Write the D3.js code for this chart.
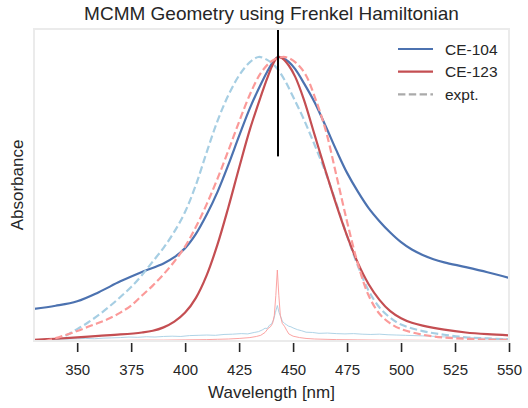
<!DOCTYPE html>
<html>
<head>
<meta charset="utf-8">
<script src="https://cdn.jsdelivr.net/npm/d3@7"></script>
<style>
  html, body { margin: 0; padding: 0; background: #ffffff; }
  svg { display: block; font-family: "Liberation Sans", Arial, sans-serif; }
</style>
</head>
<body>
<svg id="chart" width="528" height="408"></svg>
<script>
// ---- data ----
const chartTitle = "MCMM Geometry using Frenkel Hamiltonian";
const xLabel = "Wavelength [nm]";
const yLabel = "Absorbance";
const xTicks = [350, 375, 400, 425, 450, 475, 500, 525, 550];
const legendLabels = ["CE-104", "CE-123", "expt."];

// CE-104 simulated (blue solid)
const ce104Wl = [330, 340, 350, 360, 370, 380, 390, 395, 400, 405, 410, 415, 420, 425, 430, 435, 438, 441, 443, 445, 448, 451, 455, 460, 465, 470, 475, 480, 485, 490, 495, 500, 505, 510, 515, 520, 530, 540, 550];
const ce104Abs = [0.113, 0.124, 0.14, 0.172, 0.21, 0.243, 0.273, 0.295, 0.327, 0.377, 0.445, 0.525, 0.62, 0.722, 0.82, 0.903, 0.948, 0.986, 1.0, 0.997, 0.983, 0.957, 0.908, 0.84, 0.758, 0.672, 0.592, 0.526, 0.468, 0.422, 0.382, 0.348, 0.322, 0.303, 0.288, 0.277, 0.26, 0.242, 0.222];

// CE-123 simulated (red solid)
const ce123Wl = [330, 340, 350, 360, 370, 380, 385, 390, 395, 400, 405, 410, 415, 420, 425, 430, 435, 438, 441, 443, 445, 448, 451, 455, 460, 465, 470, 475, 480, 485, 490, 495, 500, 505, 510, 520, 530, 540, 550];
const ce123Abs = [0.004, 0.008, 0.013, 0.018, 0.023, 0.03, 0.036, 0.048, 0.068, 0.1, 0.152, 0.232, 0.34, 0.47, 0.61, 0.745, 0.86, 0.925, 0.98, 1.0, 0.995, 0.97, 0.93, 0.85, 0.725, 0.6, 0.48, 0.37, 0.275, 0.2, 0.145, 0.105, 0.08, 0.064, 0.054, 0.04, 0.03, 0.024, 0.02];

// experiment matching CE-104 (light blue dashed)
const expt104Wl = [330, 335, 340, 345, 350, 355, 360, 365, 370, 375, 380, 385, 390, 395, 400, 405, 410, 415, 420, 425, 430, 434, 438, 442, 446, 450, 455, 460, 465, 470, 475, 480, 485, 490, 495, 500, 510, 520, 530, 540, 550];
const expt104Abs = [0.0, 0.0, 0.004, 0.02, 0.042, 0.065, 0.092, 0.122, 0.155, 0.19, 0.232, 0.28, 0.328, 0.385, 0.455, 0.55, 0.665, 0.775, 0.865, 0.935, 0.982, 1.0, 0.99, 0.965, 0.92, 0.86, 0.78, 0.69, 0.595, 0.485, 0.37, 0.265, 0.177, 0.118, 0.082, 0.058, 0.035, 0.022, 0.013, 0.009, 0.006];

// experiment matching CE-123 (salmon dashed)
const expt123Wl = [330, 335, 340, 345, 350, 355, 360, 365, 370, 375, 380, 385, 390, 395, 400, 405, 410, 415, 420, 425, 430, 435, 440, 445, 448, 452, 456, 460, 465, 470, 475, 480, 485, 490, 495, 500, 510, 520, 530, 540, 550];
const expt123Abs = [0.0, 0.0, 0.01, 0.022, 0.035, 0.05, 0.064, 0.08, 0.1, 0.125, 0.16, 0.195, 0.235, 0.28, 0.333, 0.402, 0.482, 0.572, 0.67, 0.772, 0.868, 0.943, 0.985, 1.0, 0.996, 0.975, 0.935, 0.86, 0.745, 0.585, 0.42, 0.272, 0.16, 0.096, 0.062, 0.042, 0.022, 0.012, 0.008, 0.005, 0.004];

// thin CE-104 line (light blue, noisy)
const thin104Wl = [330, 334, 338, 342, 346, 350, 354, 358, 362, 366, 370, 374, 378, 382, 386, 390, 394, 398, 402, 406, 410, 414, 418, 422, 426, 429, 432, 434, 436, 437, 438, 439, 440, 441, 441.8, 442.7, 443.5, 444.3, 445, 446, 447, 448, 449, 450, 452, 454, 456, 459, 462, 466, 470, 474, 478, 482, 486, 490, 494, 498, 502, 506, 510, 514, 518, 522, 526, 530, 534, 538, 542, 546, 550];
const thin104Abs = [0.004, 0.005, 0.005, 0.007, 0.007, 0.008, 0.009, 0.008, 0.01, 0.011, 0.012, 0.014, 0.013, 0.015, 0.014, 0.016, 0.017, 0.016, 0.019, 0.02, 0.021, 0.02, 0.023, 0.024, 0.026, 0.025, 0.03, 0.033, 0.04, 0.045, 0.044, 0.055, 0.06, 0.075, 0.1, 0.125, 0.1, 0.085, 0.07, 0.062, 0.057, 0.052, 0.05, 0.046, 0.04, 0.036, 0.031, 0.03, 0.027, 0.028, 0.026, 0.025, 0.026, 0.024, 0.023, 0.024, 0.022, 0.021, 0.02, 0.019, 0.018, 0.017, 0.015, 0.014, 0.013, 0.012, 0.011, 0.01, 0.009, 0.008, 0.007];

// thin CE-123 line (pink)
const thin123Wl = [330, 340, 350, 360, 370, 380, 390, 400, 410, 415, 420, 425, 430, 433, 435, 437, 438.5, 439.5, 440.5, 441.3, 442, 442.7, 443.4, 444.1, 445, 446, 447, 448, 450, 453, 456, 460, 470, 480, 490, 500, 520, 550];
const thin123Abs = [0.001, 0.001, 0.002, 0.002, 0.002, 0.003, 0.003, 0.004, 0.005, 0.006, 0.007, 0.009, 0.012, 0.016, 0.02, 0.03, 0.045, 0.05, 0.062, 0.09, 0.16, 0.25, 0.16, 0.09, 0.062, 0.052, 0.038, 0.025, 0.017, 0.012, 0.009, 0.007, 0.005, 0.004, 0.003, 0.003, 0.002, 0.002];

const markerWl = 443;
const markerRange = [0.65, 1.1];

// ---- layout ----
const svg = d3.select("#chart");
const mLeft = 34, mRight = 509, mTop = 29, mBottom = 341;
const x = d3.scaleLinear().domain([330, 550]).range([mLeft, mRight]);
const y = d3.scaleLinear().domain([0, 1.1]).range([mBottom, 28.6]);

svg.append("defs").append("clipPath").attr("id", "clip")
  .append("rect").attr("x", mLeft).attr("y", mTop).attr("width", mRight - mLeft).attr("height", mBottom - mTop);

const plot = svg.append("g").attr("clip-path", "url(#clip)");

function pts(wl, v) { return wl.map((w, i) => [w, v[i]]); }
const smooth = d3.line().x(d => x(d[0])).y(d => y(d[1])).curve(d3.curveCatmullRom.alpha(0.5));
const straight = d3.line().x(d => x(d[0])).y(d => y(d[1]));

const series = [
  { wl: ce104Wl, v: ce104Abs, color: "#4c72b0", w: 2.2, dash: null, gen: smooth },
  { wl: expt104Wl, v: expt104Abs, color: "#a6cee3", w: 2.2, dash: "7.4,3.4", gen: smooth },
  { wl: thin104Wl, v: thin104Abs, color: "#a6cee3", w: 0.9, dash: null, gen: straight },
  { wl: ce123Wl, v: ce123Abs, color: "#c44e52", w: 2.2, dash: null, gen: smooth },
  { wl: expt123Wl, v: expt123Abs, color: "#fb9a99", w: 2.2, dash: "7.4,3.4", gen: smooth },
  { wl: thin123Wl, v: thin123Abs, color: "#fb9a99", w: 0.9, dash: null, gen: straight }
];

series.forEach(s => {
  plot.append("path")
    .attr("d", s.gen(pts(s.wl, s.v)))
    .attr("fill", "none")
    .attr("stroke", s.color)
    .attr("stroke-width", s.w)
    .attr("stroke-dasharray", s.dash)
    .attr("stroke-linejoin", "round");
});

// marker line
plot.append("line")
  .attr("x1", x(markerWl)).attr("x2", x(markerWl))
  .attr("y1", y(markerRange[0])).attr("y2", y(markerRange[1]))
  .attr("stroke", "#000").attr("stroke-width", 2);

// frame
svg.append("rect").attr("x", mLeft).attr("y", mTop).attr("width", mRight - mLeft).attr("height", mBottom - mTop)
  .attr("fill", "none").attr("stroke", "#ebebeb").attr("stroke-width", 2);

// x axis
const xAxis = d3.axisBottom(x).tickValues(xTicks).tickSize(9).tickPadding(12).tickFormat(d3.format("d"));
const gx = svg.append("g").attr("transform", `translate(0,${mBottom + 2})`).call(xAxis);
gx.select(".domain").remove();
gx.selectAll(".tick line").attr("stroke", "#262626").attr("stroke-width", 1.6);
gx.selectAll(".tick text").attr("fill", "#262626").attr("font-size", 15)
  .attr("font-family", "'Liberation Sans', Arial, sans-serif");

// labels
svg.append("text").attr("x", (mLeft + mRight) / 2).attr("y", 20).attr("text-anchor", "middle")
  .attr("font-size", 19).attr("fill", "#262626").text(chartTitle);
svg.append("text").attr("x", (mLeft + mRight) / 2).attr("y", 398).attr("text-anchor", "middle")
  .attr("font-size", 17).attr("fill", "#262626").text(xLabel);
svg.append("text").attr("transform", `translate(23,${(mTop + mBottom) / 2}) rotate(-90)`)
  .attr("text-anchor", "middle").attr("font-size", 17).attr("fill", "#262626").text(yLabel);

// legend
const legColors = ["#4c72b0", "#c44e52", "#aaaaaa"];
const legDash = [null, null, "7.4,3.4"];
const leg = svg.append("g");
legendLabels.forEach((lab, i) => {
  const cy = 49 + i * 22.7;
  leg.append("line").attr("x1", 398).attr("x2", 433).attr("y1", cy).attr("y2", cy)
    .attr("stroke", legColors[i]).attr("stroke-width", 2.2).attr("stroke-dasharray", legDash[i]);
  leg.append("text").attr("x", 445).attr("y", cy + 5.5).attr("font-size", 15.5)
    .attr("fill", "#262626").text(lab);
});
</script>
</body>
</html>
